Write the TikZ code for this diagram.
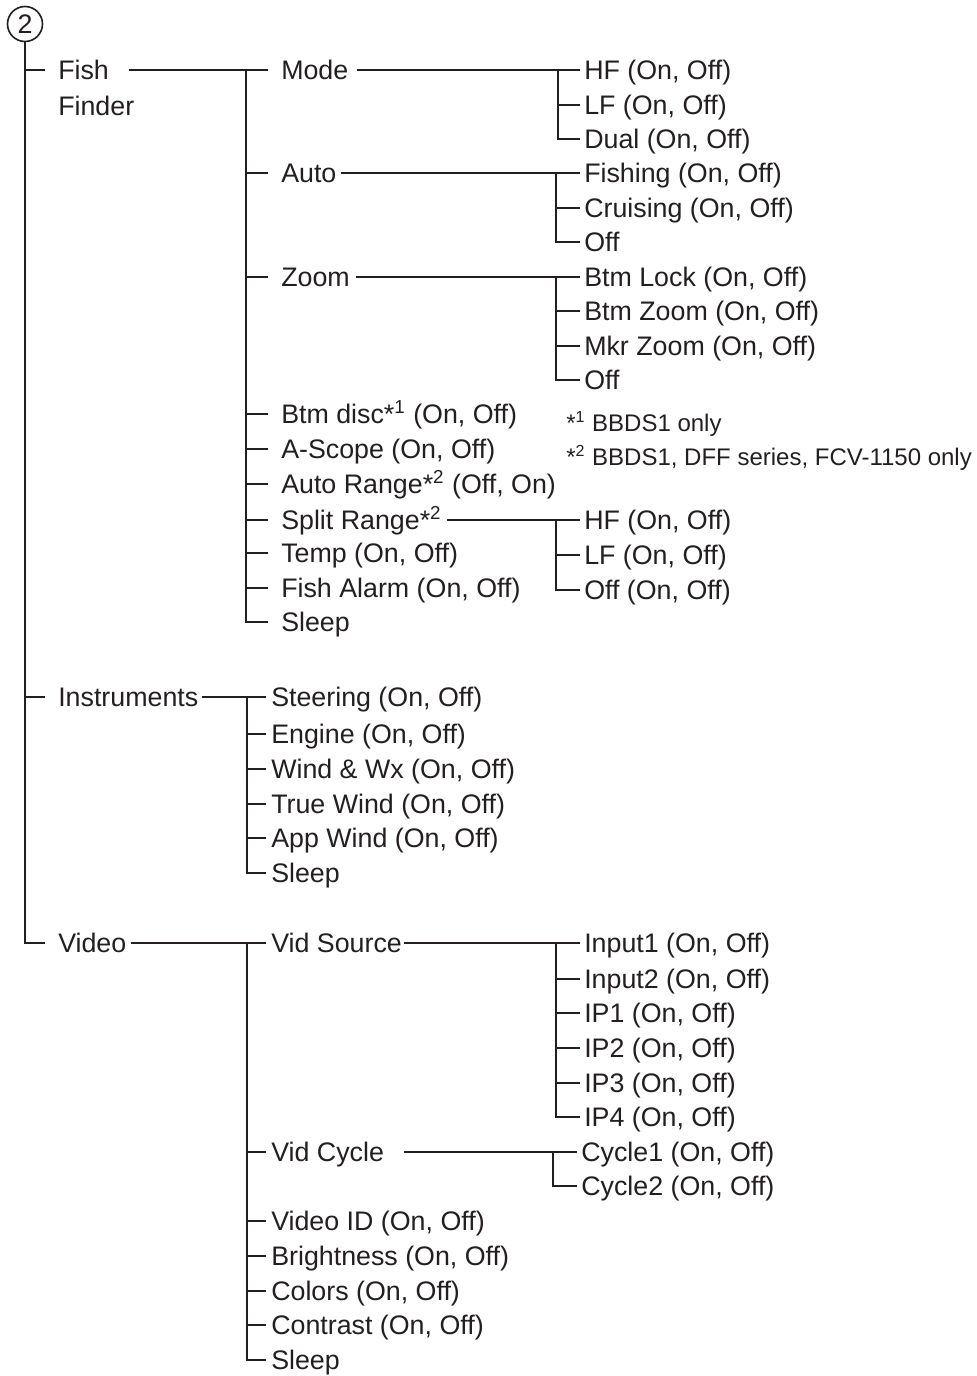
\documentclass[tikz,border=0pt]{standalone}
\usepackage{fontspec}
\setmainfont{Liberation Sans}
\usetikzlibrary{positioning}
\definecolor{ink}{HTML}{231F20}

\begin{document}
\begin{tikzpicture}[x=0.5pt,y=-0.5pt,line width=1.25pt,color=ink,
    item/.style={anchor=west,inner sep=0pt,text height=9.6pt,text depth=0pt,font=\fontsize{13.4}{16}\selectfont},
    note/.style={anchor=west,inner sep=0pt,text height=8.6pt,text depth=0pt,font=\fontsize{12}{14}\selectfont},
    badge/.style={draw,circle,inner sep=0pt,minimum size=17.5pt,line width=0.8pt,font=\fontsize{13.4}{16}\selectfont}]

\useasboundingbox (0,0) rectangle (976,1376);

% Top level
\node[badge] (top) at (25,24) {2};
\node[item] (ff) at (57,70) {Fish};
\node[item] (ffb) at (57,106) {Finder};
\node[item] (instr) at (57,697) {Instruments};
\node[item] (video) at (57,943) {Video};

\draw (top.south) |- ([xshift=-6pt]video.west);
\foreach \n in {ff,instr} { \draw (top.south |- \n.west) -- ([xshift=-6pt]\n.west); }

% Fish Finder
\foreach \n/\y/\t in {mode/70/Mode, auto/173/Auto, zoom/277/Zoom,
    btmdisc/414/{Btm disc*\textsuperscript{1} (On, Off)}, ascope/449/{A-Scope (On, Off)},
    autorange/484/{Auto Range*\textsuperscript{2} (Off, On)}, split/520/{Split Range*\textsuperscript{2}},
    temp/553/{Temp (On, Off)}, alarm/588/{Fish Alarm (On, Off)}, ffsleep/622/Sleep} {
    \node[item] (\n) at (280,\y) {\t};
}
\coordinate (ffbus) at (246,70);
\draw ([xshift=9.5pt]ff.east) -- (ffbus) -- ([xshift=-6pt]mode.west);
\draw (ffbus) |- ([xshift=-6pt]ffsleep.west);
\foreach \n in {auto,zoom,btmdisc,ascope,autorange,split,temp,alarm} {
    \draw (ffbus |- \n.west) -- ([xshift=-6pt]\n.west);
}

% Mode
\node[item] (hfA) at (583,70) {HF (On, Off)};
\node[item] (lfA) at (583,105) {LF (On, Off)};
\node[item] (dual) at (583,139) {Dual (On, Off)};
\coordinate (modebus) at (558,70);
\draw ([xshift=3.5pt]mode.east) -- (modebus) -- ([xshift=-1.5pt]hfA.west);
\draw (modebus) |- ([xshift=-1.5pt]dual.west);
\draw (modebus |- lfA.west) -- ([xshift=-1.5pt]lfA.west);

% Auto
\node[item] (fishing) at (583,173) {Fishing (On, Off)};
\node[item] (cruising) at (583,208) {Cruising (On, Off)};
\node[item] (offA) at (583,242) {Off};
\coordinate (autobus) at (556,173);
\draw ([xshift=1.5pt]auto.east) -- (autobus) -- ([xshift=-1.5pt]fishing.west);
\draw (autobus) |- ([xshift=-1.5pt]offA.west);
\draw (autobus |- cruising.west) -- ([xshift=-1.5pt]cruising.west);

% Zoom
\node[item] (btmlock) at (583,277) {Btm Lock (On, Off)};
\node[item] (btmzoom) at (583,311) {Btm Zoom (On, Off)};
\node[item] (mkrzoom) at (583,346) {Mkr Zoom (On, Off)};
\node[item] (offB) at (583,380) {Off};
\coordinate (zoombus) at (556,277);
\draw ([xshift=2.5pt]zoom.east) -- (zoombus) -- ([xshift=-1.5pt]btmlock.west);
\draw (zoombus) |- ([xshift=-1.5pt]offB.west);
\foreach \n in {btmzoom,mkrzoom} { \draw (zoombus |- \n.west) -- ([xshift=-1.5pt]\n.west); }

% Split Range
\node[item] (hfB) at (583,520) {HF (On, Off)};
\node[item] (lfB) at (583,555) {LF (On, Off)};
\node[item] (offC) at (583,590) {Off (On, Off)};
\coordinate (splitbus) at (556,520);
\draw ([xshift=2pt]split.east) -- (splitbus) -- ([xshift=-1.5pt]hfB.west);
\draw (splitbus) |- ([xshift=-1.5pt]offC.west);
\draw (splitbus |- lfB.west) -- ([xshift=-1.5pt]lfB.west);

% Notes
\node[note] (note1) at (565,423) {*\textsuperscript{1} BBDS1 only};
\node[note] (note2) at (565,457) {*\textsuperscript{2} BBDS1, DFF series, FCV-1150 only};

% Instruments
\foreach \n/\y/\t in {steering/697/{Steering (On, Off)}, engine/734/{Engine (On, Off)},
    wind/769/{Wind \& Wx (On, Off)}, truewind/804/{True Wind (On, Off)},
    appwind/838/{App Wind (On, Off)}, insleep/873/Sleep} {
    \node[item] (\n) at (270,\y) {\t};
}
\coordinate (inbus) at (247,697);
\draw ([xshift=1pt]instr.east) -- (inbus) -- ([xshift=-2pt]steering.west);
\draw (inbus) |- ([xshift=-2pt]insleep.west);
\foreach \n in {engine,wind,truewind,appwind} { \draw (inbus |- \n.west) -- ([xshift=-2pt]\n.west); }

% Video
\foreach \n/\y/\t in {vidsrc/943/Vid Source, vidcyc/1152/Vid Cycle,
    vidid/1221/{Video ID (On, Off)}, bright/1256/{Brightness (On, Off)},
    colors/1291/{Colors (On, Off)}, contrast/1325/{Contrast (On, Off)}, vsleep/1360/Sleep} {
    \node[item] (\n) at (270,\y) {\t};
}
\coordinate (vbus) at (247,943);
\draw ([xshift=1.5pt]video.east) -- (vbus) -- ([xshift=-2pt]vidsrc.west);
\draw (vbus) |- ([xshift=-2pt]vsleep.west);
\foreach \n in {vidcyc,vidid,bright,colors,contrast} { \draw (vbus |- \n.west) -- ([xshift=-2pt]\n.west); }

% Vid Source
\foreach \n/\y/\t in {input1/943/{Input1 (On, Off)}, input2/979/{Input2 (On, Off)},
    ipA/1013/{IP1 (On, Off)}, ipB/1048/{IP2 (On, Off)}, ipC/1083/{IP3 (On, Off)},
    ipD/1117/{IP4 (On, Off)}} {
    \node[item] (\n) at (583,\y) {\t};
}
\coordinate (srcbus) at (556,943);
\draw ([xshift=0.5pt]vidsrc.east) -- (srcbus) -- ([xshift=-1.5pt]input1.west);
\draw (srcbus) |- ([xshift=-1.5pt]ipD.west);
\foreach \n in {input2,ipA,ipB,ipC} { \draw (srcbus |- \n.west) -- ([xshift=-1.5pt]\n.west); }

% Vid Cycle
\node[item] (cycle1) at (580,1152) {Cycle1 (On, Off)};
\node[item] (cycle2) at (580,1186) {Cycle2 (On, Off)};
\coordinate (cycbus) at (553,1152);
\draw ([xshift=9.5pt]vidcyc.east) -- (cycbus) -- ([xshift=-1.5pt]cycle1.west);
\draw (cycbus) |- ([xshift=-1.5pt]cycle2.west);

\end{tikzpicture}
\end{document}
